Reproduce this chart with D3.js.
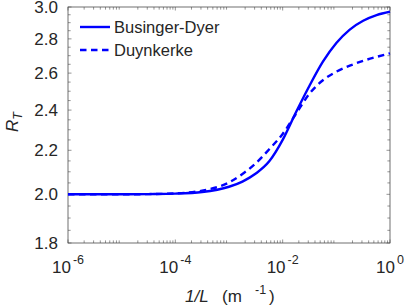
<!DOCTYPE html>
<html><head><meta charset="utf-8">
<script src="https://cdn.jsdelivr.net/npm/d3@7/dist/d3.min.js"></script>
<style>
html,body{margin:0;padding:0;background:#fff;}
svg{display:block;font-family:"Liberation Sans",Arial,Helvetica,sans-serif;}
</style></head>
<body><svg id="c" width="407" height="308"></svg>
<script>
// ---- data ----
const invL = [1e-6, 3.16e-6, 1e-5, 3.16e-5, 1e-4, 3.16e-4, 1e-3, 1.78e-3, 3.16e-3, 5.62e-3, 1e-2, 1.78e-2, 3.16e-2, 5.62e-2, 0.1, 0.178, 0.316, 0.562, 1];
const businger = [2.000, 2.000, 2.000, 2.001, 2.003, 2.010, 2.033, 2.056, 2.092, 2.148, 2.250, 2.390, 2.530, 2.665, 2.775, 2.857, 2.912, 2.948, 2.969];
const duynkerke = [2.000, 2.000, 2.000, 2.001, 2.004, 2.016, 2.052, 2.090, 2.139, 2.205, 2.279, 2.382, 2.487, 2.560, 2.608, 2.642, 2.670, 2.693, 2.714];
const seriesNames = ["Businger-Dyer", "Duynkerke"];
const xTickValues = [1e-6, 1e-4, 1e-2, 1];
const xTickExponents = ["-6", "-4", "-2", "0"];
const yTickValues = [1.8, 2.0, 2.2, 2.4, 2.6, 2.8, 3.0];
const yTickLabels = ["1.8", "2.0", "2.2", "2.4", "2.6", "2.8", "3.0"];

// ---- layout ----
const L = 68, R = 390, T = 7, B = 243;
const svg = d3.select("#c");
const x = d3.scaleLog().domain([1e-6, 1]).range([L, R]);
const y = d3.scaleLog().domain([1.8, 3.0]).range([B, T]);
const ink = "#262626";
const axisInk = "#4d4d4d";
const tl = 3.5;

// minor tick values
const xMinor = [];
for (let e = -6; e < 0; e++) for (let k = 2; k <= 9; k++) xMinor.push(k * Math.pow(10, e));
const yMinor = d3.range(1.85, 3.0, 0.05).map(v => +v.toFixed(2)).filter(v => Math.abs(v*5 - Math.round(v*5)) > 1e-6);

const g = svg.append("g");
function ticks(vals, len) {
  vals.forEach(v => {
    const px = x(v);
    g.append("line").attr("x1", px).attr("x2", px).attr("y1", B).attr("y2", B - len);
    g.append("line").attr("x1", px).attr("x2", px).attr("y1", T).attr("y2", T + len);
  });
}
function yticks(vals, len) {
  vals.forEach(v => {
    const py = y(v);
    g.append("line").attr("x1", L).attr("x2", L + len).attr("y1", py).attr("y2", py);
    g.append("line").attr("x1", R).attr("x2", R - len).attr("y1", py).attr("y2", py);
  });
}
ticks(xTickValues, tl); ticks(xMinor, tl * 0.75);
yticks(yTickValues, tl); yticks(yMinor, tl * 0.75);
g.selectAll("line").attr("stroke", axisInk).attr("stroke-width", 0.6);
svg.append("rect").attr("x", L).attr("y", T).attr("width", R - L).attr("height", B - T)
  .attr("fill", "none").attr("stroke", axisInk).attr("stroke-width", 0.8);

// curves
const pts = s => invL.map((v, i) => [x(v), y(s[i])]);
const line = d3.line().curve(d3.curveMonotoneX);
svg.append("path").attr("d", line(pts(businger))).attr("fill", "none")
  .attr("stroke", "#0000ff").attr("stroke-width", 2.4);
svg.append("path").attr("d", line(pts(duynkerke))).attr("fill", "none")
  .attr("stroke", "#0000ff").attr("stroke-width", 2.4).attr("stroke-dasharray", "6.5,4.5");

// tick labels
const fs = 17;
yTickValues.forEach((v, i) => {
  svg.append("text").attr("x", L - 10).attr("y", y(v)).attr("dy", "0.36em")
    .attr("text-anchor", "end").attr("font-size", fs).attr("fill", ink).text(yTickLabels[i]);
});
xTickValues.forEach((v, i) => {
  const t = svg.append("text").attr("x", x(v)).attr("y", 273).attr("text-anchor", "middle")
    .attr("font-size", fs).attr("fill", ink);
  t.append("tspan").text("10");
  t.append("tspan").attr("dx", 2).attr("dy", -9).attr("font-size", 12.5).text(xTickExponents[i]);
});

// axis labels
const xl = svg.append("text").attr("y", 302).attr("font-size", fs).attr("fill", ink);
xl.append("tspan").attr("x", 185).attr("font-style", "italic").text("1/L");
xl.append("tspan").attr("x", 222).text("(m");
xl.append("tspan").attr("x", 255).attr("dy", -8).attr("font-size", 12.5).text("-1");
xl.append("tspan").attr("x", 269).attr("dy", 8).text(")");

const yl = svg.append("text").attr("transform", "translate(18,132) rotate(-90)")
  .attr("font-size", fs).attr("fill", ink).attr("font-style", "italic");
yl.append("tspan").text("R");
yl.append("tspan").attr("dy", 4).attr("font-size", 12.5).text("T");

// legend
const lg = svg.append("g");
[0, 1].forEach(i => {
  const ly = 27 + i * 23;
  lg.append("line").attr("x1", 80).attr("x2", 110).attr("y1", ly).attr("y2", ly)
    .attr("stroke", "#0000ff").attr("stroke-width", 2.4)
    .attr("stroke-dasharray", i === 1 ? "6.5,4.5" : null);
  lg.append("text").attr("x", 114).attr("y", ly).attr("dy", "0.36em")
    .attr("font-size", 16.5).attr("fill", ink).text(seriesNames[i]);
});
</script></body></html>
